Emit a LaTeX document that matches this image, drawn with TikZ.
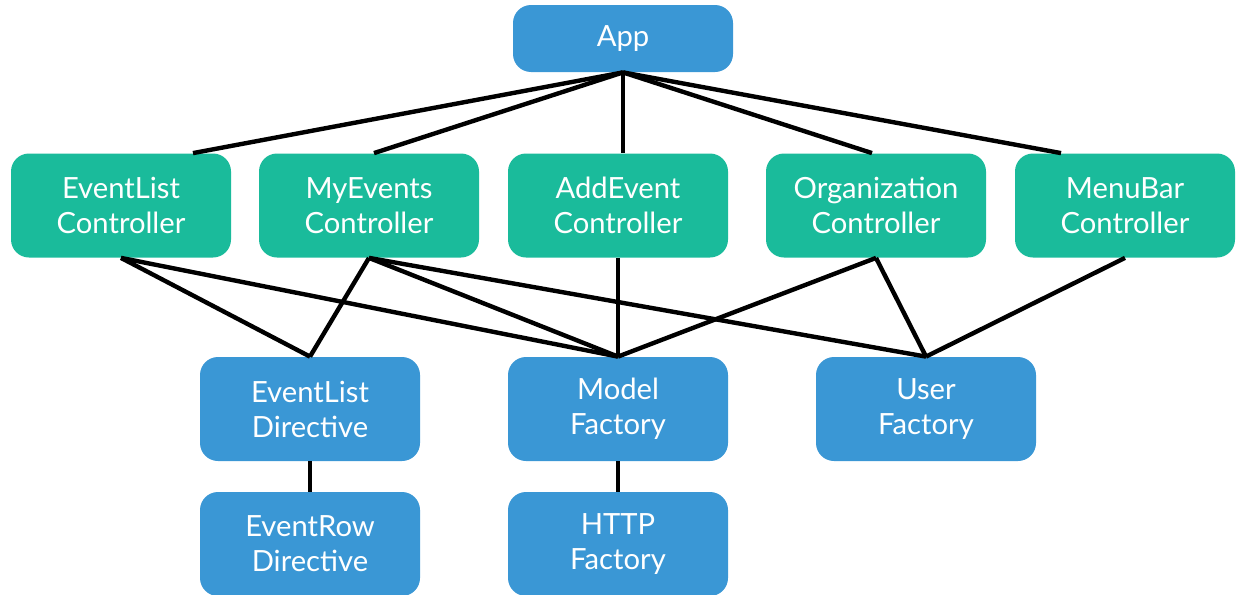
\documentclass[tikz,border=0pt]{standalone}
\usepackage{fontspec}
\setmainfont{Lato}
\definecolor{ngblue}{HTML}{3A97D5}
\definecolor{nggreen}{HTML}{1ABB9B}
\begin{document}
\begin{tikzpicture}[
	x=0.5pt, y=-0.5pt,
	box/.style={
		rectangle,
		rounded corners=9pt,
		minimum width=110pt,
		minimum height=52pt,
		text=white,
		align=center,
		font=\fontsize{14.6}{17.5}\selectfont,
	},
	svc/.style={box, fill=ngblue},
	ctrl/.style={box, fill=nggreen},
	wire/.style={line width=2.2pt, black},
]

\useasboundingbox (0,0) rectangle (1236,594);

\node[svc, minimum height=33.5pt] (app) at (623,38.5) {App};

\node[ctrl] (elc) at (121,205.5) {EventList\\ Controller};
\node[ctrl] (mec) at (369,205.5) {MyEvents\\ Controller};
\node[ctrl] (aec) at (618,205.5) {AddEvent\\ Controller};
\node[ctrl] (orc) at (876,205.5) {Organization\\ Controller};
\node[ctrl] (mbc) at (1125,205.5) {MenuBar\\ Controller};

\node[svc] (eld) at (310,409) {EventList\\ Directive};
\node[svc] (mf) at (618,409) {Model\\ Factory};
\node[svc] (uf) at (926,409) {User\\ Factory};

\node[svc] (erd) at (310,544) {EventRow\\ Directive};
\node[svc] (hf) at (618,544) {HTTP\\ Factory};

\draw[wire] (app.south) -- ([xshift=36pt]elc.north);
\draw[wire] (app.south) -- ([xshift=2.5pt]mec.north);
\draw[wire] (app.south) -- (app.south |- aec.north);
\draw[wire] (app.south) -- ([xshift=-2pt]orc.north);
\draw[wire] (app.south) -- ([xshift=-32pt]mbc.north);

\draw[wire] (elc.south) -- (eld.north);
\draw[wire] (elc.south) -- (mf.north);
\draw[wire] (mec.south) -- (eld.north);
\draw[wire] (mec.south) -- (mf.north);
\draw[wire] (mec.south) -- (uf.north);
\draw[wire] (aec.south) -- (mf.north);
\draw[wire] (orc.south) -- (mf.north);
\draw[wire] (orc.south) -- (uf.north);
\draw[wire] (mbc.south) -- (uf.north);

\draw[wire] (eld.south) -- (erd.north);
\draw[wire] (mf.south) -- (hf.north);

\end{tikzpicture}
\end{document}
